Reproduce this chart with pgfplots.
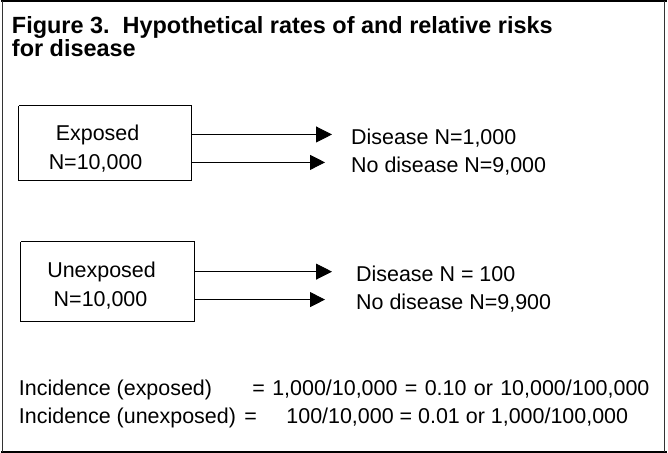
\documentclass[border=0pt]{standalone}
\usepackage{pgfplots}
\pgfplotsset{compat=1.18}
\usepackage{fontspec}
\setmainfont{Liberation Sans}
\usetikzlibrary{arrows.meta}
\begin{document}
\begin{tikzpicture}[bodytext/.style={inner sep=0pt, font=\fontsize{21.5bp}{24bp}\selectfont}]
\begin{axis}[scale only axis, width=668bp, height=460bp,
  xmin=0, xmax=668, ymin=0, ymax=460, y dir=reverse,
  hide axis, clip=false]
% outer frame: heavy top and bottom rules, thin sides
\addplot[black, line width=1.6pt] coordinates {(0,3) (668,3)};
\addplot[black, line width=1.6pt] coordinates {(0,455) (668,455)};
\addplot[black!80, line width=0.7pt] coordinates {(1.5,3) (1.5,455)};
\addplot[black!80, line width=0.9pt] coordinates {(665,3) (665,455)};
% boxes
\addplot[black, line width=1pt] coordinates {(18,108) (191,108) (191,183) (18,183) (18,108)};
\addplot[black, line width=1pt] coordinates {(20,244.5) (194,244.5) (194,324.5) (20,324.5) (20,244.5)};
% arrows
\addplot[black, line width=0.9pt, -{Triangle[length=16bp,width=16bp]}] coordinates {(191,137) (332,137)};
\addplot[black, line width=0.9pt, -{Triangle[length=15bp,width=15bp]}] coordinates {(191,165) (325,165)};
\addplot[black, line width=0.9pt, -{Triangle[length=16bp,width=16bp]}] coordinates {(194,274.5) (332,274.5)};
\addplot[black, line width=0.9pt, -{Triangle[length=15bp,width=15bp]}] coordinates {(194,302.5) (325,302.5)};
% title
\node[anchor=base west, inner sep=0pt, font=\fontsize{23.5bp}{26bp}\selectfont\bfseries] at (axis cs:11,36) {Figure 3.\ \ Hypothetical rates of and relative risks};
\node[anchor=base west, inner sep=0pt, font=\fontsize{23.5bp}{26bp}\selectfont\bfseries] at (axis cs:11,59) {for disease};
% box texts
\node[anchor=base, bodytext] at (axis cs:97,143) {Exposed};
\node[anchor=base, bodytext] at (axis cs:95,172) {N=10,000};
\node[anchor=base, bodytext] at (axis cs:101,280) {Unexposed};
\node[anchor=base, bodytext] at (axis cs:100,309) {N=10,000};
% outcomes
\node[anchor=base west, bodytext] at (axis cs:351,147) {Disease N=1,000};
\node[anchor=base west, bodytext] at (axis cs:351,175) {No disease N=9,000};
\node[anchor=base west, bodytext] at (axis cs:356,284.5) {Disease N = 100};
\node[anchor=base west, bodytext] at (axis cs:356,312.5) {No disease N=9,900};
% incidence
\node[anchor=base west, bodytext] at (axis cs:18,399) {Incidence (exposed)};
\node[anchor=base west, bodytext] at (axis cs:18,427) {Incidence (unexposed)};
\node[anchor=base west, bodytext] at (axis cs:252,399) {\makebox[398bp][s]{= 1,000/10,000 = 0.10 or 10,000/100,000}};
\node[anchor=base west, bodytext] at (axis cs:244,427) {=};
\node[anchor=base east, bodytext] at (axis cs:629,427) {100/10,000 = 0.01 or 1,000/100,000};
\end{axis}
\end{tikzpicture}
\end{document}
